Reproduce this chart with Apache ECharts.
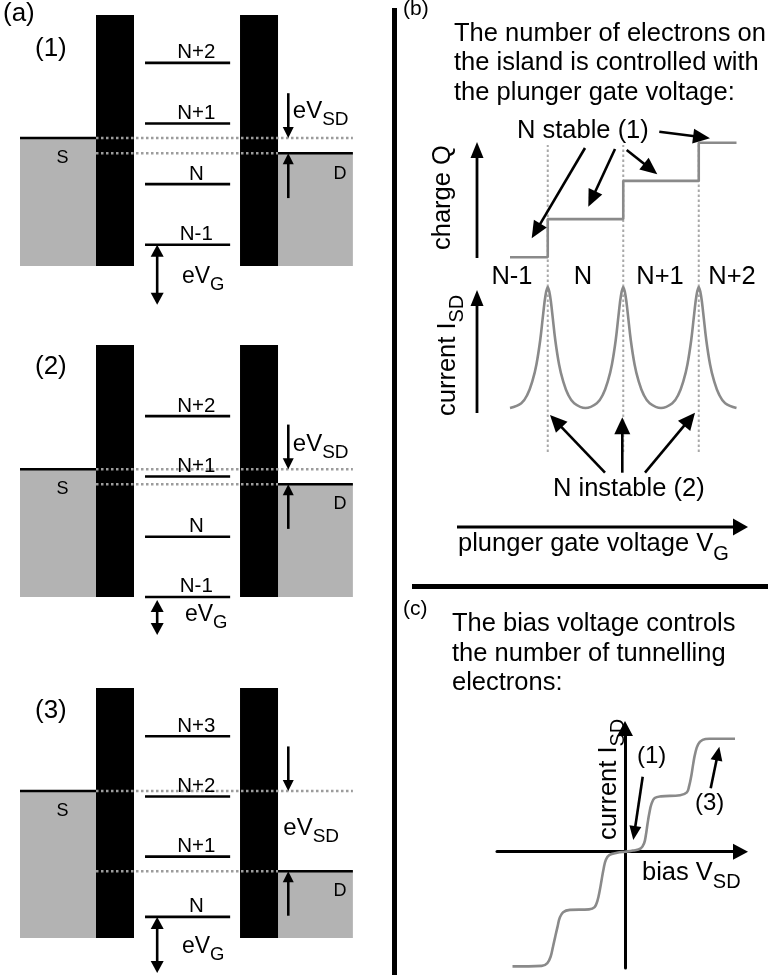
<!DOCTYPE html>
<html>
<head>
<meta charset="utf-8">
<script src="https://cdn.jsdelivr.net/npm/echarts@6/dist/echarts.min.js"></script>
<style>
  html, body { margin: 0; padding: 0; background: #fff; }
  #chart { width: 771px; height: 975px; }
</style>
</head>
<body>
<div id="chart"></div>
<script>
// ---------------- data ----------------
// (a) single-electron transistor energy diagrams, energies in units of the addition energy
const levelNames1 = ['N-1', 'N', 'N+1', 'N+2'];
const levelNames2 = ['N-1', 'N', 'N+1', 'N+2'];
const levelNames3 = ['N', 'N+1', 'N+2', 'N+3'];
const levelEnergy1 = [0, 1, 2, 3];
const levelEnergy2 = [0, 1, 2, 3];
const levelEnergy3 = [0, 1, 2, 3];
const sourceFermi = [1.76, 2.12, 2.09];
const drainFermi = [1.51, 1.87, 0.76];
const gateShift = [0.99, 0.58, 0.93];
const caseLabels = ['(1)', '(2)', '(3)'];

// (b) sweep of the plunger gate voltage
const chargeStates = ['N-1', 'N', 'N+1', 'N+2'];
const degeneracyGate = [1, 2, 3];
const chargeGate = [0.5, 1, 2, 3, 3.5];
const chargeValue = [0, 1, 2, 3, 3];
const currentGate = [0.5, 0.65, 0.73, 0.8, 0.85, 0.9, 0.94, 0.97, 1, 1.03, 1.06, 1.1, 1.15, 1.2, 1.27, 1.35, 1.5,
  1.65, 1.73, 1.8, 1.85, 1.9, 1.94, 1.97, 2, 2.03, 2.06, 2.1, 2.15, 2.2, 2.27, 2.35, 2.5,
  2.65, 2.73, 2.8, 2.85, 2.9, 2.94, 2.97, 3, 3.03, 3.06, 3.1, 3.15, 3.2, 3.27, 3.35, 3.5];
const currentValue = [0, 0.04, 0.11, 0.23, 0.36, 0.56, 0.78, 0.93, 1, 0.93, 0.78, 0.56, 0.36, 0.23, 0.11, 0.04, 0,
  0.04, 0.11, 0.23, 0.36, 0.56, 0.78, 0.93, 1, 0.93, 0.78, 0.56, 0.36, 0.23, 0.11, 0.04, 0,
  0.04, 0.11, 0.23, 0.36, 0.56, 0.78, 0.93, 1, 0.93, 0.78, 0.56, 0.36, 0.23, 0.11, 0.04, 0];

// (c) sweep of the bias voltage
const biasVoltage = [-5.0, -3.7, -3.45, -3.3, -3.2, -3.11, -3.0, -2.9, -2.75, -2.45, -1.6, -1.35, -1.22, -1.12, -1.04,
  -0.95, -0.85, -0.7, -0.35, 0, 0.35, 0.7, 0.85, 0.93, 1.0, 1.08, 1.18, 1.32, 1.6, 2.45, 2.75, 2.85, 2.95, 3.03,
  3.12, 3.25, 3.45, 3.75, 5.0];
const biasCurrent = [-2.03, -2.02, -1.97, -1.85, -1.68, -1.52, -1.33, -1.17, -1.07, -1.03, -1.02, -0.98, -0.86, -0.68, -0.5,
  -0.3, -0.14, -0.06, -0.02, 0, 0.02, 0.06, 0.15, 0.3, 0.49, 0.68, 0.85, 0.95, 0.98, 1.0, 1.05, 1.16, 1.35, 1.55,
  1.74, 1.9, 1.98, 2.0, 2.0];

// ---------------- styling / layout ----------------
const FONT = '"Liberation Sans", Arial, Helvetica, sans-serif';
const LEAD_FILL = '#b3b3b3';
const CURVE = '#8a8a8a';
const DOT = '#9c9c9c';
const TXT = 25.5;

// horizontal geometry of the diagrams in (a), in units of one barrier width
const GEO = { S: [0, 2], BL: [2, 3], LV: [3.29, 5.53], BR: [5.79, 6.79], D: [6.79, 8.76], xMax: 8.76,
  sdX: 7.06, gX: 3.61, lvLabelX: 4.64, sX: 1.12, dX: 8.42, sdLen: 0.74 };
const panelA = [
  { top: 15, height: 251, yMin: -0.35, yMax: 3.79, gTop: 0, sdText: [7.18, 2.06], gText: [4.26, -0.66], labelY: 58 },
  { top: 345, height: 252, yMin: 0, yMax: 4.18, gTop: -0.05, sdText: [7.18, 2.39], gText: [4.34, -0.42], labelY: 376 },
  { top: 688, height: 250, yMin: -0.35, yMax: 3.80, gTop: 0, sdText: [6.93, 1.33], gText: [4.26, -0.63], labelY: 720 }
];
const levelNames = [levelNames1, levelNames2, levelNames3];
const levelEnergy = [levelEnergy1, levelEnergy2, levelEnergy3];

// ---------------- helpers ----------------
const measureCtx = document.createElement('canvas').getContext('2d');
function textWidth(s, fs) {
  measureCtx.font = fs + 'px ' + FONT;
  return measureCtx.measureText(s).width;
}

// text anchored on the baseline of the main run, with an optional subscript
function textEl(px, py, main, o) {
  o = o || {};
  const fs = o.fs || TXT, fill = o.color || '#000', align = o.align || 'left';
  const run = (s, x, y, size, al) => ({
    type: 'text', silent: true, z: 20,
    style: { text: s, x: x, y: y - 0.35 * size, fontSize: size, fontFamily: FONT, fill: fill,
      align: al, verticalAlign: 'middle' }
  });
  if (!o.sub) {
    const el = run(main, 0, 0, fs, align);
    el.x = px; el.y = py; el.rotation = o.rot || 0;
    return el;
  }
  const sfs = o.sfs || Math.round(fs * 0.78), drop = o.drop == null ? 7 : o.drop;
  const w = textWidth(main, fs);
  return { type: 'group', x: px, y: py, rotation: o.rot || 0, silent: true, children: [
    run(main, 0, 0, fs, 'left'),
    run(o.sub, w + (o.gap || 0), drop, sfs, 'left')
  ] };
}

function arrowEls(p1, p2, o) {
  o = o || {};
  const w = o.w || 2.6, hl = o.hl || 12, hw = o.hw || 12, col = o.color || '#000';
  const dx = p2[0] - p1[0], dy = p2[1] - p1[1], L = Math.hypot(dx, dy);
  const ux = dx / L, uy = dy / L, nx = -uy, ny = ux;
  const head = (tip, sx, sy) => ({
    type: 'polygon', silent: true, z: 20,
    shape: { points: [[tip[0], tip[1]],
      [tip[0] - sx * hl + nx * hw / 2, tip[1] - sy * hl + ny * hw / 2],
      [tip[0] - sx * hl - nx * hw / 2, tip[1] - sy * hl - ny * hw / 2]] },
    style: { fill: col }
  });
  const s = o.both ? [p1[0] + ux * hl * 0.9, p1[1] + uy * hl * 0.9] : p1;
  const e = [p2[0] - ux * hl * 0.9, p2[1] - uy * hl * 0.9];
  const els = [{ type: 'line', silent: true, z: 20, shape: { x1: s[0], y1: s[1], x2: e[0], y2: e[1] },
    style: { stroke: col, lineWidth: w } }, head(p2, ux, uy)];
  if (o.both) els.push(head(p1, -ux, -uy));
  return els;
}

function segEl(a, b, style) {
  return { type: 'line', shape: { x1: a[0], y1: a[1], x2: b[0], y2: b[1] }, style: style };
}
function rectEl(a, b, fill) {
  return { type: 'rect', shape: { x: Math.min(a[0], b[0]), y: Math.min(a[1], b[1]),
    width: Math.abs(b[0] - a[0]), height: Math.abs(b[1] - a[1]) }, style: { fill: fill } };
}

const solidEdge = { stroke: '#000', lineWidth: 2.5 };
const dottedEdge = { stroke: DOT, lineWidth: 2.5, lineDash: [2.5, 2.5] };

// ---------------- grids & axes ----------------
const grids = [], xAxes = [], yAxes = [], series = [];
const hiddenAxis = (gi, min, max) => ({ type: 'value', gridIndex: gi, min: min, max: max, show: false });

panelA.forEach((P, i) => {
  grids.push({ left: 20, top: P.top, width: GEO.xMax * 38, height: P.height });
  xAxes.push(hiddenAxis(i, 0, GEO.xMax));
  yAxes.push(hiddenAxis(i, P.yMin, P.yMax));
});
// 3: charge, 4: current, 5: gate-voltage overlay, 6: I-V
grids.push({ left: 510, top: 142.7, width: 226.5, height: 114.6 });
xAxes.push(hiddenAxis(3, 0.5, 3.5)); yAxes.push(hiddenAxis(3, 0, 3));
grids.push({ left: 510, top: 287, width: 226.5, height: 121 });
xAxes.push(hiddenAxis(4, 0.5, 3.5)); yAxes.push(hiddenAxis(4, 0, 1));
grids.push({ left: 510, top: 145, width: 226.5, height: 307 });
xAxes.push(hiddenAxis(5, 0.5, 3.5)); yAxes.push(hiddenAxis(5, 0, 1));
grids.push({ left: 497, top: 736, width: 236, height: 232 });
const ivAxisLine = { show: true, onZero: true, symbol: ['none', 'triangle'], symbolSize: [16, 15],
  symbolOffset: [0, 7.5], lineStyle: { color: '#000', width: 3 } };
xAxes.push({ type: 'value', gridIndex: 6, min: -5.689, max: 4.8, axisLine: ivAxisLine,
  axisTick: { show: false }, axisLabel: { show: false }, splitLine: { show: false } });
yAxes.push({ type: 'value', gridIndex: 6, min: -2.058, max: 2.048, axisLine: ivAxisLine,
  axisTick: { show: false }, axisLabel: { show: false }, splitLine: { show: false } });

// ---------------- (a) series ----------------
panelA.forEach((P, i) => {
  // leads, barriers and the electrochemical potentials of source and drain
  series.push({
    type: 'custom', xAxisIndex: i, yAxisIndex: i, clip: false, silent: true,
    dimensions: ['muS', 'muD'], encode: { y: [0, 1] },
    data: [[sourceFermi[i], drainFermi[i]]],
    renderItem: (params, api) => {
      const muS = api.value(0), muD = api.value(1);
      const c = (x, y) => api.coord([x, y]);
      const yb = P.yMin, yt = P.yMax;
      const pS = c(GEO.sX, muS - 0.44), pD = c(GEO.dX, muD - 0.44);
      return { type: 'group', children: [
        rectEl(c(GEO.S[0], yb), c(GEO.S[1], muS), LEAD_FILL),
        rectEl(c(GEO.D[0], yb), c(GEO.D[1], muD), LEAD_FILL),
        rectEl(c(GEO.BL[0], yb), c(GEO.BL[1], yt), '#000'),
        rectEl(c(GEO.BR[0], yb), c(GEO.BR[1], yt), '#000'),
        segEl(c(GEO.S[0], muS), c(GEO.S[1], muS), solidEdge),
        segEl(c(GEO.D[0], muD), c(GEO.D[1], muD), solidEdge),
        segEl(c(GEO.BL[0], muS), c(GEO.D[1], muS), dottedEdge),
        segEl(c(GEO.BL[0], muD), c(GEO.BR[1], muD), dottedEdge),
        textEl(pS[0], pS[1], 'S', { fs: 18, align: 'center' }),
        textEl(pD[0], pD[1], 'D', { fs: 18, align: 'center' })
      ] };
    }
  });
  // charge-state levels on the island
  series.push({
    type: 'custom', xAxisIndex: i, yAxisIndex: i, clip: false, silent: true,
    dimensions: ['energy'], encode: { y: 0 },
    data: levelEnergy[i].map(e => [e]),
    renderItem: (params, api) => {
      const e = api.value(0);
      const a = api.coord([GEO.LV[0], e]), b = api.coord([GEO.LV[1], e]);
      const t = api.coord([GEO.lvLabelX, e + 0.05]);
      return { type: 'group', children: [
        segEl(a, b, { stroke: '#000', lineWidth: 2.6 }),
        textEl(t[0], t[1], levelNames[i][params.dataIndex], { fs: 20.5, align: 'center' })
      ] };
    }
  });
  // bias and gate arrows
  series.push({
    type: 'custom', xAxisIndex: i, yAxisIndex: i, clip: false, silent: true,
    dimensions: ['muS', 'muD', 'lowest', 'shift'], encode: { y: [0, 1, 2] },
    data: [[sourceFermi[i], drainFermi[i], levelEnergy[i][0], gateShift[i]]],
    renderItem: (params, api) => {
      const muS = api.value(0), muD = api.value(1), e0 = api.value(2), sh = api.value(3);
      const c = (x, y) => api.coord([x, y]);
      const tSD = c(P.sdText[0], P.sdText[1]), tG = c(P.gText[0], P.gText[1]);
      const g0 = e0 + P.gTop;
      return { type: 'group', children: [].concat(
        arrowEls(c(GEO.sdX, muS + GEO.sdLen), c(GEO.sdX, muS), { w: 2.6, hl: 11, hw: 11 }),
        arrowEls(c(GEO.sdX, muD - GEO.sdLen), c(GEO.sdX, muD), { w: 2.6, hl: 11, hw: 11 }),
        arrowEls(c(GEO.gX, g0), c(GEO.gX, g0 - sh), { w: 2.6, hl: 12, hw: 13, both: true }),
        [textEl(tSD[0], tSD[1], 'eV', { fs: 24, sub: 'SD', sfs: 19, drop: 7 }),
         textEl(tG[0], tG[1], 'eV', { fs: 23, sub: 'G', sfs: 18.5, drop: 7 })]
      ) };
    }
  });
});

// ---------------- (b) series ----------------
series.push({
  type: 'custom', xAxisIndex: 5, yAxisIndex: 5, clip: false, silent: true,
  dimensions: ['gate'], encode: { x: 0 },
  data: degeneracyGate.map(g => [g]),
  renderItem: (params, api) => {
    const g = api.value(0);
    return segEl(api.coord([g, 0]), api.coord([g, 1]), { stroke: '#a8a8a8', lineWidth: 2, lineDash: [2.5, 2.5] });
  }
});
series.push({
  type: 'line', xAxisIndex: 3, yAxisIndex: 3, step: 'end', showSymbol: false, symbol: 'none',
  clip: false, silent: true, animation: false,
  lineStyle: { color: CURVE, width: 2.6 },
  data: chargeGate.map((g, k) => [g, chargeValue[k]])
});
series.push({
  type: 'line', xAxisIndex: 4, yAxisIndex: 4, smooth: 0.4, showSymbol: false, symbol: 'none',
  clip: false, silent: true, animation: false,
  lineStyle: { color: CURVE, width: 2.6 },
  data: currentGate.map((g, k) => [g, currentValue[k]])
});

// ---------------- (c) series ----------------
series.push({
  type: 'line', xAxisIndex: 6, yAxisIndex: 6, smooth: 0.4, showSymbol: false, symbol: 'none',
  clip: false, silent: true, animation: false,
  lineStyle: { color: CURVE, width: 2.6 },
  data: biasVoltage.map((v, k) => [v, biasCurrent[k]])
});

// ---------------- annotations ----------------
const g = [];
// frame dividers
g.push({ type: 'rect', shape: { x: 392, y: 8, width: 5, height: 967 }, style: { fill: '#000' } });
g.push({ type: 'rect', shape: { x: 412, y: 584, width: 356, height: 5 }, style: { fill: '#000' } });
// (a)
g.push(textEl(3, 23, '(a)', { fs: 26 }));
panelA.forEach((P, i) => g.push(textEl(35, P.labelY, caseLabels[i], { fs: 26 })));
// (b)
g.push(textEl(403, 17, '(b)', { fs: 21 }));
['The number of electrons on', 'the island is controlled with', 'the plunger gate voltage:']
  .forEach((s, k) => g.push(textEl(454, 43 + k * 29.2, s)));
g.push(textEl(517, 140, 'N stable (1)'));
g.push(...arrowEls([585, 148], [531.7, 238.3], { hl: 17, hw: 15 }));
g.push(...arrowEls([615, 149], [588.3, 206.7], { hl: 17, hw: 15 }));
g.push(...arrowEls([626.7, 150], [657.3, 174.3], { hl: 17, hw: 15 }));
g.push(...arrowEls([659.3, 131.7], [710, 138.3], { hl: 17, hw: 15 }));
g.push(...arrowEls([477, 258], [477, 142], { w: 2.8, hl: 16, hw: 13 }));
g.push(textEl(452, 250, 'charge Q', { rot: Math.PI / 2 }));
g.push(...arrowEls([477, 413], [477, 290], { w: 2.8, hl: 16, hw: 13 }));
g.push(textEl(457, 416, 'current I', { rot: Math.PI / 2, sub: 'SD', sfs: 20, drop: 7 }));
const stateX = [512, 583, 660, 732];
chargeStates.forEach((s, k) => g.push(textEl(stateX[k], 286, s, { align: 'center' })));
g.push(textEl(553, 498, 'N instable (2)'));
g.push(...arrowEls([605, 472.7], [550, 415], { hl: 17, hw: 16 }));
g.push(...arrowEls([622.3, 472.7], [622.3, 417.3], { hl: 17, hw: 16 }));
g.push(...arrowEls([645, 472.7], [695, 412.7], { hl: 17, hw: 16 }));
g.push(...arrowEls([457, 527], [748, 527], { w: 3, hl: 15, hw: 17 }));
g.push(textEl(458, 553, 'plunger gate voltage V', { sub: 'G', sfs: 20, drop: 8 }));
// (c)
g.push(textEl(403, 617, '(c)', { fs: 21 }));
['The bias voltage controls', 'the number of tunnelling', 'electrons:']
  .forEach((s, k) => g.push(textEl(452, 633.3 + k * 29.2, s)));
g.push(textEl(637, 765, '(1)', { fs: 24 }));
g.push(...arrowEls([642.7, 776.7], [633.3, 840], { hl: 14, hw: 12 }));
g.push(textEl(695, 812, '(3)', { fs: 24 }));
g.push(...arrowEls([710.7, 788.3], [719.3, 746.7], { hl: 14, hw: 12 }));
g.push(textEl(618, 840, 'current I', { rot: Math.PI / 2, sub: 'SD', sfs: 20, drop: 7 }));
g.push(textEl(642, 881.7, 'bias V', { sub: 'SD', sfs: 20, drop: 8 }));

const chart = echarts.init(document.getElementById('chart'), null, { renderer: 'canvas' });
chart.setOption({
  backgroundColor: '#fff',
  animation: false,
  grid: grids,
  xAxis: xAxes,
  yAxis: yAxes,
  series: series,
  graphic: { elements: g }
});
</script>
</body>
</html>
